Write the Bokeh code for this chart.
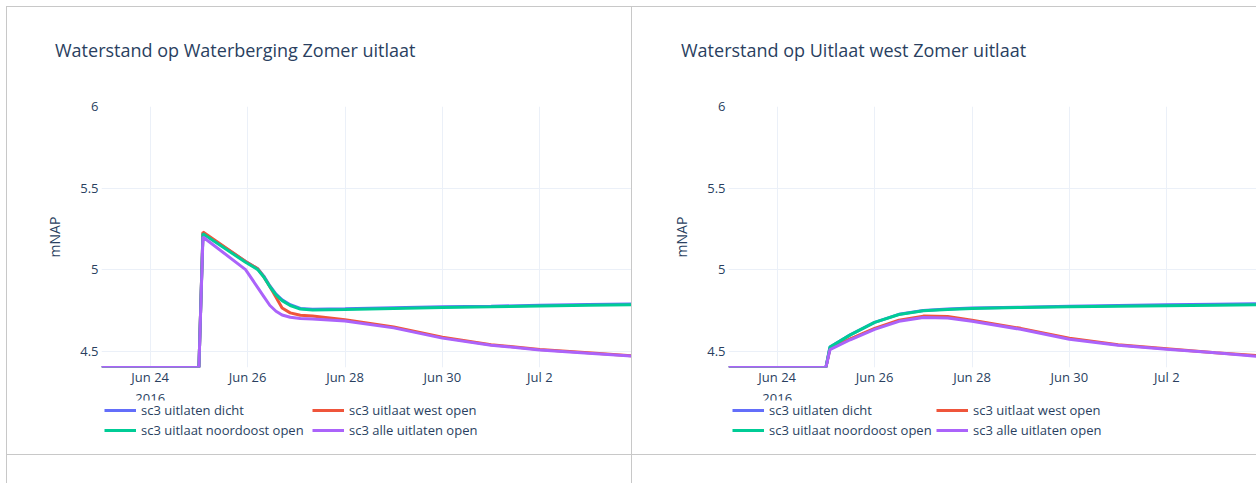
import pandas as pd
from bokeh.plotting import figure
from bokeh.models import (Legend, LegendItem, Range1d, Div, DatetimeTickFormatter,
                          NumeralTickFormatter, ColumnDataSource, Spacer)
from bokeh.layouts import row, column
from bokeh.embed import file_html
from bokeh.resources import INLINE

FONT = "Open Sans"
TEXT = "#2a3f5f"
GRID = "#ebf0f8"
BORDER = "#c8c8c8"

series_names = ["sc3 uitlaten dicht", "sc3 uitlaat west open",
                "sc3 uitlaat noordoost open", "sc3 alle uitlaten open"]
series_colors = ["#636efa", "#ef553b", "#00cc96", "#ab63fa"]

titles = ["Waterstand op Waterberging Zomer uitlaat",
          "Waterstand op Uitlaat west Zomer uitlaat"]
y_label = "mNAP"
x_tick_dates = ["2016-06-24", "2016-06-26", "2016-06-28", "2016-06-30", "2016-07-02"]
y_ticks = [4.5, 5.0, 5.5, 6.0]

# ---- Panel 1: Waterberging ----
times_1 = ["2016-06-23 00:00", "2016-06-25 00:00", "2016-06-25 02:00", "2016-06-25 23:00",
           "2016-06-26 05:00", "2016-06-26 08:00", "2016-06-26 11:00", "2016-06-26 14:00",
           "2016-06-26 17:00", "2016-06-26 21:00", "2016-06-27 02:00", "2016-06-27 08:00",
           "2016-06-28 00:00", "2016-06-29 00:00", "2016-06-30 00:00", "2016-07-01 00:00",
           "2016-07-02 00:00", "2016-07-03 00:00", "2016-07-04 00:00"]
dicht_1 = [4.40, 4.40, 5.225, 5.05, 5.005, 4.96, 4.90, 4.85, 4.815, 4.785, 4.762, 4.757,
           4.76, 4.766, 4.772, 4.776, 4.781, 4.786, 4.79]
west_1 = [4.40, 4.40, 5.23, 5.05, 5.005, 4.955, 4.895, 4.83, 4.765, 4.735, 4.72, 4.715,
          4.693, 4.648, 4.585, 4.54, 4.51, 4.49, 4.47]
noordoost_1 = [4.40, 4.40, 5.22, 5.045, 5.0, 4.955, 4.895, 4.845, 4.81, 4.78, 4.758, 4.753,
               4.756, 4.762, 4.768, 4.772, 4.777, 4.781, 4.785]
alle_1 = [4.40, 4.40, 5.20, 5.0, 4.89, 4.835, 4.78, 4.745, 4.722, 4.708, 4.70, 4.697,
          4.685, 4.643, 4.58, 4.537, 4.508, 4.487, 4.468]

# ---- Panel 2: Uitlaat west ----
times_2 = ["2016-06-23 00:00", "2016-06-25 00:00", "2016-06-25 02:00", "2016-06-25 12:00",
           "2016-06-26 00:00", "2016-06-26 12:00", "2016-06-27 00:00", "2016-06-27 12:00",
           "2016-06-28 00:00", "2016-06-29 00:00", "2016-06-30 00:00", "2016-07-01 00:00",
           "2016-07-02 00:00", "2016-07-03 00:00", "2016-07-04 00:00"]
dicht_2 = [4.40, 4.40, 4.525, 4.60, 4.677, 4.726, 4.75, 4.758, 4.764, 4.77, 4.776, 4.78,
           4.784, 4.788, 4.791]
west_2 = [4.40, 4.40, 4.515, 4.575, 4.64, 4.69, 4.715, 4.712, 4.69, 4.64, 4.58, 4.54,
          4.515, 4.49, 4.47]
noordoost_2 = [4.40, 4.40, 4.525, 4.60, 4.677, 4.725, 4.748, 4.756, 4.762, 4.768, 4.773,
               4.776, 4.779, 4.782, 4.785]
alle_2 = [4.40, 4.40, 4.51, 4.57, 4.634, 4.683, 4.707, 4.703, 4.683, 4.634, 4.573, 4.537,
          4.512, 4.49, 4.465]

PX_PER_DAY = 48.7
B = f"1px solid {BORDER}"


def make_panel(title, times, series, width, border_left, legend_x, title_x, first):
    x = pd.to_datetime(times)
    side = {"border-left": B, "border-right": B} if first else {}

    # title as real text in a div
    tdiv = Div(text=(f'<div style="margin:32px 0 0 {title_x}px; '
                     f'font-family:\'{FONT}\'; font-size:18px; color:{TEXT}; '
                     f'white-space:nowrap; line-height:22px;">{title}</div>'),
               width=width, height=90, margin=0,
               styles=dict({"border-top": B, "box-sizing": "border-box",
                            "background-color": "white"}, **side))

    start = pd.Timestamp("2016-06-23 00:00")
    end = start + pd.Timedelta(days=(width - border_left) / PX_PER_DAY)
    p = figure(width=width, height=314, x_axis_type="datetime",
               x_range=Range1d(start, end), y_range=Range1d(4.4, 6.0),
               output_backend="svg", toolbar_location=None,
               min_border_left=border_left, min_border_right=0,
               min_border_top=10, min_border_bottom=42,
               outline_line_color=None, background_fill_color="white",
               border_fill_color="white",
               styles=dict({"box-sizing": "border-box"}, **side))

    renderers = []
    for vals, color in zip(series, series_colors):
        src = ColumnDataSource(dict(x=x, y=vals))
        r = p.line("x", "y", source=src, line_color=color, line_width=3)
        renderers.append(r)

    p.xaxis.ticker = [pd.Timestamp(d).value / 1e6 for d in x_tick_dates]
    p.xaxis.formatter = DatetimeTickFormatter(
        days="%b %-d", months="%b %-d",
        context=DatetimeTickFormatter(days="%Y", months="%Y"),
        context_which="start", context_location="below")
    p.yaxis.ticker = y_ticks
    p.yaxis.formatter = NumeralTickFormatter(format="0.[0]")
    p.yaxis.axis_label = y_label
    p.yaxis.axis_label_text_font = FONT
    p.yaxis.axis_label_text_font_size = "14px"
    p.yaxis.axis_label_text_font_style = "normal"
    p.yaxis.axis_label_text_color = TEXT
    p.yaxis.axis_label_standoff = 13
    for ax in (p.xaxis[0], p.yaxis[0]):
        ax.axis_line_color = None
        ax.major_tick_line_color = None
        ax.minor_tick_line_color = None
        ax.major_tick_out = 0
        ax.major_label_text_font = FONT
        ax.major_label_text_font_size = "13px"
        ax.major_label_text_color = TEXT
    p.xaxis.major_label_standoff = 0
    p.yaxis.major_label_standoff = 3
    p.grid.grid_line_color = GRID
    p.grid.grid_line_width = 1

    # legend strip: same series, drawn outside this strip's view, only legend visible
    lf = figure(width=width, height=55, x_range=Range1d(0, 1), y_range=Range1d(0, 1),
                output_backend="svg", toolbar_location=None,
                x_axis_location=None, y_axis_location=None,
                min_border_left=0, min_border_right=0, min_border_top=0, min_border_bottom=0,
                outline_line_color=None, background_fill_color="white",
                border_fill_color="white", margin=(-10, 0, 0, 0),
                styles=dict({"border-bottom": B, "box-sizing": "border-box"}, **side))
    lf.grid.visible = False
    lrs = []
    for vals, color in zip(series, series_colors):
        src = ColumnDataSource(dict(x=x, y=vals))
        lrs.append(lf.line("x", "y", source=src, line_color=color, line_width=3))
    for idxs, lx in (([0, 2], legend_x[0]), ([1, 3], legend_x[1])):
        items = [LegendItem(label=series_names[i], renderers=[lrs[i]]) for i in idxs]
        leg = Legend(items=items, location=(lx, 15), orientation="vertical",
                     padding=0, margin=0, spacing=0, glyph_width=32, glyph_height=20,
                     label_height=20, label_standoff=5, border_line_color=None,
                     background_fill_alpha=0.0,
                     label_text_font=FONT, label_text_font_size="13px",
                     label_text_color=TEXT, click_policy="none")
        lf.add_layout(leg, "center")

    return column(tdiv, p, lf, spacing=0)


c1 = make_panel(titles[0], times_1, [dicht_1, west_1, noordoost_1, alle_1], 626, 94,
                (3, 211), 48, True)
c2 = make_panel(titles[1], times_2, [dicht_2, west_2, noordoost_2, alle_2], 624, 96,
                (4, 208), 49, False)

d1 = Div(text="", width=626, height=28, margin=0,
         styles={"border-left": B, "border-right": B, "box-sizing": "border-box"})
d2 = Div(text="", width=624, height=28, margin=0)

layout = column(Spacer(height=6),
                row(Spacer(width=6), c1, c2, spacing=0),
                row(Spacer(width=6), d1, d2, spacing=0), spacing=0)

open("out.html", "w").write(file_html(layout, INLINE))
